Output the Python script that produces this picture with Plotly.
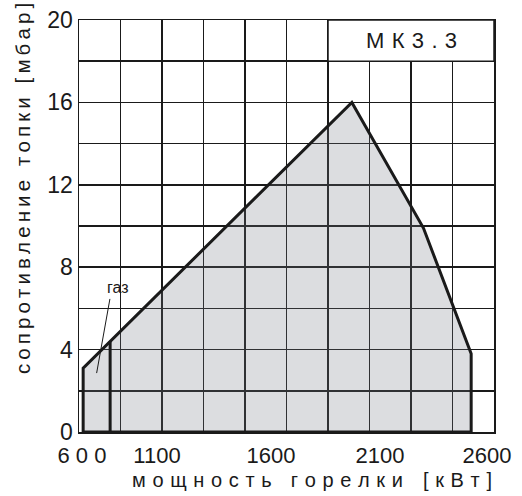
import plotly.graph_objects as go

# ---- data ----
envelope_kw = [620, 620, 1915, 2260, 2490, 2490, 620]
envelope_mbar = [0, 3.1, 16.0, 9.9, 3.8, 0, 0]

gas_kw = [750, 750]
gas_mbar = [0, 4.4]

pointer_kw = [749, 685]
pointer_mbar = [6.46, 2.86]

x_tick_positions = [614, 976, 1525, 2051, 2566]
x_tick_labels = ["6 0 0", "1100", "1600", "2100", "2600"]
y_tick_values = [0, 4, 8, 12, 16, 20]

x_range = [600, 2600]
y_range = [0, 20]

FONT = "Liberation Sans, Arial, sans-serif"
INK = "#1a1a1a"

W, H = 522, 496
# plot area in pixels: x 79..494, y 20..432
L, T = 79, 20
R, B = W - 494, H - 432
PW, PH = W - L - R, H - T - B


def spaced(text, sep):
    return sep.join(list(text))


def px_to_paper(px, py):
    return (px - L) / PW, (H - B - py) / PH


fig = go.Figure()

fig.add_trace(go.Scatter(
    x=envelope_kw, y=envelope_mbar, mode="lines", fill="toself",
    fillcolor="rgba(115,119,131,0.25)",
    line=dict(color=INK, width=3), hoverinfo="skip", showlegend=False))

fig.add_trace(go.Scatter(
    x=gas_kw, y=gas_mbar, mode="lines",
    line=dict(color=INK, width=3), hoverinfo="skip", showlegend=False))

fig.add_trace(go.Scatter(
    x=pointer_kw, y=pointer_mbar, mode="lines",
    line=dict(color=INK, width=1), hoverinfo="skip", showlegend=False))

fig.add_annotation(x=788, y=7.0, xref="x", yref="y", text="газ",
                   showarrow=False, font=dict(family=FONT, size=16, color=INK))

# label box
fig.add_shape(type="rect", xref="x", yref="y", x0=1800, x1=2600, y0=18, y1=20,
              fillcolor="white", line=dict(color=INK, width=1.5), layer="between")
fig.add_annotation(x=2200, y=19, xref="x", yref="y", text=spaced("МК3.3", "\u2004"),
                   showarrow=False, font=dict(family=FONT, size=22, color=INK))

# axis titles
xtx, xty = px_to_paper(312, 480)
fig.add_annotation(x=xtx, y=xty, xref="paper", yref="paper",
                   text=spaced("мощность горелки", "\u2004") + "\u2004\u2004\u2004" + spaced("[кВт]", "\u2004"),
                   showarrow=False, xanchor="center", yanchor="middle",
                   font=dict(family=FONT, size=20, color=INK))
ytx, yty = px_to_paper(22, 189)
fig.add_annotation(x=ytx, y=yty, xref="paper", yref="paper",
                   text=spaced("сопротивление топки [мбар]", "\u2009"),
                   showarrow=False, textangle=-90, xanchor="center", yanchor="middle",
                   font=dict(family=FONT, size=20.5, color=INK))

fig.update_layout(
    width=W, height=H,
    margin=dict(l=L, r=R, t=T, b=B, autoexpand=False),
    paper_bgcolor="white", plot_bgcolor="white",
    showlegend=False,
    xaxis=dict(range=x_range, tickmode="array", tickvals=x_tick_positions,
               ticktext=x_tick_labels, showgrid=False, zeroline=False,
               ticks="", tickfont=dict(family=FONT, size=22, color=INK),
               ticklabelstandoff=3, ticklabeloverflow="allow",
               showline=True, mirror=True, linecolor=INK, linewidth=1.5,
               automargin=False,
               minor=dict(tick0=600, dtick=200, showgrid=True,
                          gridcolor=INK, gridwidth=1.5, ticks=""),
               fixedrange=True),
    yaxis=dict(range=y_range, tickmode="array", tickvals=y_tick_values,
               showgrid=True, gridcolor=INK, gridwidth=1.5, zeroline=False,
               ticks="", tickfont=dict(family=FONT, size=23, color=INK),
               ticklabeloverflow="allow",
               showline=True, mirror=True, linecolor=INK, linewidth=1.5,
               automargin=False,
               minor=dict(tick0=0, dtick=2, showgrid=True,
                          gridcolor=INK, gridwidth=1.5, ticks=""),
               fixedrange=True),
)

fig.write_html("out.html",
               config={"displayModeBar": False, "staticPlot": True},
               post_script="document.body.style.margin='0';document.body.style.overflow='hidden';")
